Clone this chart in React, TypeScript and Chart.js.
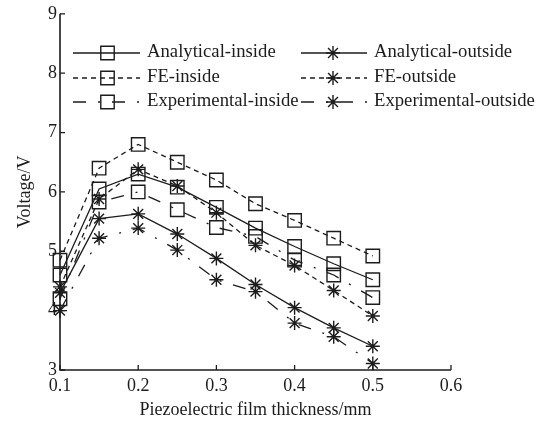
import React, { useEffect, useRef } from 'react';
import { Chart, registerables } from 'chart.js';

Chart.register(...registerables);

// ---- data ----
const thickness = [0.1, 0.15, 0.2, 0.25, 0.3, 0.35, 0.4, 0.45, 0.5];
const analyticalInside = [4.6, 6.05, 6.3, 6.08, 5.74, 5.39, 5.08, 4.79, 4.52];
const feInside = [4.85, 6.4, 6.8, 6.5, 6.2, 5.8, 5.52, 5.22, 4.92];
const experimentalInside = [4.2, 5.83, 6.0, 5.7, 5.4, 5.25, 4.85, 4.6, 4.22];
const analyticalOutside = [4.3, 5.55, 5.63, 5.29, 4.88, 4.44, 4.05, 3.71, 3.4];
const feOutside = [4.4, 5.88, 6.38, 6.1, 5.65, 5.1, 4.76, 4.34, 3.91];
const experimentalOutside = [4.0, 5.22, 5.39, 5.02, 4.52, 4.32, 3.79, 3.56, 3.11];

const seriesNames = [
  'Analytical-inside',
  'FE-inside',
  'Experimental-inside',
  'Analytical-outside',
  'FE-outside',
  'Experimental-outside',
];
const xTitle = 'Piezoelectric film thickness/mm';
const yTitle = 'Voltage/V';

// ---- styles ----
const SERIF = '"Liberation Serif", "Times New Roman", "DejaVu Serif", serif';
const INK = '#1c1c1c';
const DASH_SOLID: number[] = [];
const DASH_FE = [5, 4];
const DASH_EXP = [13, 12, 2, 12];
const SQ_R = 9.5;
const STAR_R = 7;

type Style = { dash: number[]; marker: 'rect' | 'star' };
const styles: Style[] = [
  { dash: DASH_SOLID, marker: 'rect' },
  { dash: DASH_FE, marker: 'rect' },
  { dash: DASH_EXP, marker: 'rect' },
  { dash: DASH_SOLID, marker: 'star' },
  { dash: DASH_FE, marker: 'star' },
  { dash: DASH_EXP, marker: 'star' },
];
const seriesValues = [
  analyticalInside,
  feInside,
  experimentalInside,
  analyticalOutside,
  feOutside,
  experimentalOutside,
];

function drawMarker(ctx: CanvasRenderingContext2D, kind: string, x: number, y: number) {
  ctx.save();
  ctx.setLineDash([]);
  ctx.strokeStyle = INK;
  ctx.lineWidth = 1.4;
  ctx.beginPath();
  if (kind === 'rect') {
    const s = Math.SQRT1_2 * SQ_R;
    ctx.rect(x - s, y - s, 2 * s, 2 * s);
  } else {
    const r = STAR_R;
    const d = r * Math.SQRT1_2;
    ctx.moveTo(x - r, y); ctx.lineTo(x + r, y);
    ctx.moveTo(x, y - r); ctx.lineTo(x, y + r);
    ctx.moveTo(x - d, y - d); ctx.lineTo(x + d, y + d);
    ctx.moveTo(x - d, y + d); ctx.lineTo(x + d, y - d);
  }
  ctx.stroke();
  ctx.restore();
}

const axesPlugin = {
  id: 'axesTicks',
  beforeDatasetsDraw(chart: any) {
    const { ctx, chartArea } = chart;
    const xs = chart.scales.x;
    const ys = chart.scales.y;
    ctx.save();
    ctx.strokeStyle = INK;
    ctx.lineWidth = 1.6;
    ctx.setLineDash([]);
    ctx.beginPath();
    ctx.moveTo(chartArea.left, chartArea.top);
    ctx.lineTo(chartArea.left, chartArea.bottom);
    ctx.lineTo(chartArea.right, chartArea.bottom);
    ctx.stroke();
    ctx.lineWidth = 1.3;
    ctx.beginPath();
    xs.ticks.forEach((t: any) => {
      const px = xs.getPixelForValue(t.value);
      ctx.moveTo(px, chartArea.bottom);
      ctx.lineTo(px, chartArea.bottom - 5);
    });
    ys.ticks.forEach((t: any) => {
      const py = ys.getPixelForValue(t.value);
      ctx.moveTo(chartArea.left, py);
      ctx.lineTo(chartArea.left + 5, py);
    });
    ctx.stroke();
    ctx.restore();
  },
};

const legendCols = [
  { x1: 73, x2: 140, mx: 107.5, tx: 147 },
  { x1: 301, x2: 367, mx: 333, tx: 374 },
];
const legendRows = [53, 78, 102];

const legendPlugin = {
  id: 'customLegend',
  afterDraw(chart: any) {
    const { ctx } = chart;
    ctx.save();
    ctx.font = `18.7px ${SERIF}`;
    ctx.fillStyle = INK;
    ctx.textAlign = 'left';
    ctx.textBaseline = 'alphabetic';
    seriesNames.forEach((name, i) => {
      const col = legendCols[Math.floor(i / 3)];
      const y = legendRows[i % 3];
      const st = styles[i];
      ctx.strokeStyle = INK;
      ctx.lineWidth = 1.3;
      ctx.setLineDash(st.dash);
      ctx.beginPath();
      ctx.moveTo(col.x1, y);
      ctx.lineTo(col.x2, y);
      ctx.stroke();
      ctx.setLineDash([]);
      drawMarker(ctx, st.marker, col.mx, y);
      ctx.fillText(name, col.tx, y + 4);
    });
    ctx.restore();
  },
};

export default function App() {
  const ref = useRef<HTMLCanvasElement | null>(null);

  useEffect(() => {
    if (!ref.current) return;
    Chart.defaults.font.family = SERIF;
    Chart.defaults.color = INK;
    const datasets = seriesNames.map((name, i) => ({
      label: name,
      data: thickness.map((x, j) => ({ x, y: seriesValues[i][j] })),
      borderColor: INK,
      borderWidth: 1.3,
      borderDash: styles[i].dash,
      pointStyle: styles[i].marker,
      pointRadius: styles[i].marker === 'rect' ? SQ_R : STAR_R,
      pointBorderWidth: 1.4,
      pointBorderColor: INK,
      pointBackgroundColor: 'rgba(0,0,0,0)',
      fill: false,
      tension: 0,
      clip: false as any,
    }));
    const chart = new Chart(ref.current, {
      type: 'line',
      data: { datasets },
      options: {
        responsive: false,
        animation: false,
        devicePixelRatio: 1,
        layout: { padding: { left: 0, top: 12, right: 91, bottom: 0 } },
        plugins: { legend: { display: false }, tooltip: { enabled: false } },
        scales: {
          x: {
            type: 'linear',
            min: 0.1,
            max: 0.6,
            grid: { display: false, drawTicks: false },
            border: { display: false },
            ticks: {
              stepSize: 0.1,
              padding: 5,
              maxRotation: 0,
              color: INK,
              font: { size: 18, family: SERIF },
              callback: (v: any) => Number(v).toFixed(1),
            },
            title: {
              display: true,
              text: xTitle,
              color: INK,
              font: { size: 18, family: SERIF, lineHeight: 1.2 },
              padding: { top: 0, bottom: 2 },
            },
            afterFit: (s: any) => { s.height = 53; },
          },
          y: {
            type: 'linear',
            min: 3,
            max: 9,
            grid: { display: false, drawTicks: false },
            border: { display: false },
            ticks: {
              stepSize: 1,
              padding: 3,
              color: INK,
              font: { size: 18, family: SERIF },
            },
            title: {
              display: true,
              text: yTitle,
              color: INK,
              font: { size: 18, family: SERIF, lineHeight: 1.2 },
              padding: { top: 14, bottom: 0 },
            },
            afterFit: (s: any) => { s.width = 60; },
          },
        },
      },
      plugins: [axesPlugin, legendPlugin],
    });
    return () => chart.destroy();
  }, []);

  return (
    <div style={{ position: 'fixed', left: 0, top: 0, width: 542, height: 423, background: '#fff' }}>
      <canvas ref={ref} width={542} height={423} style={{ width: 542, height: 423, display: 'block' }} />
    </div>
  );
}
